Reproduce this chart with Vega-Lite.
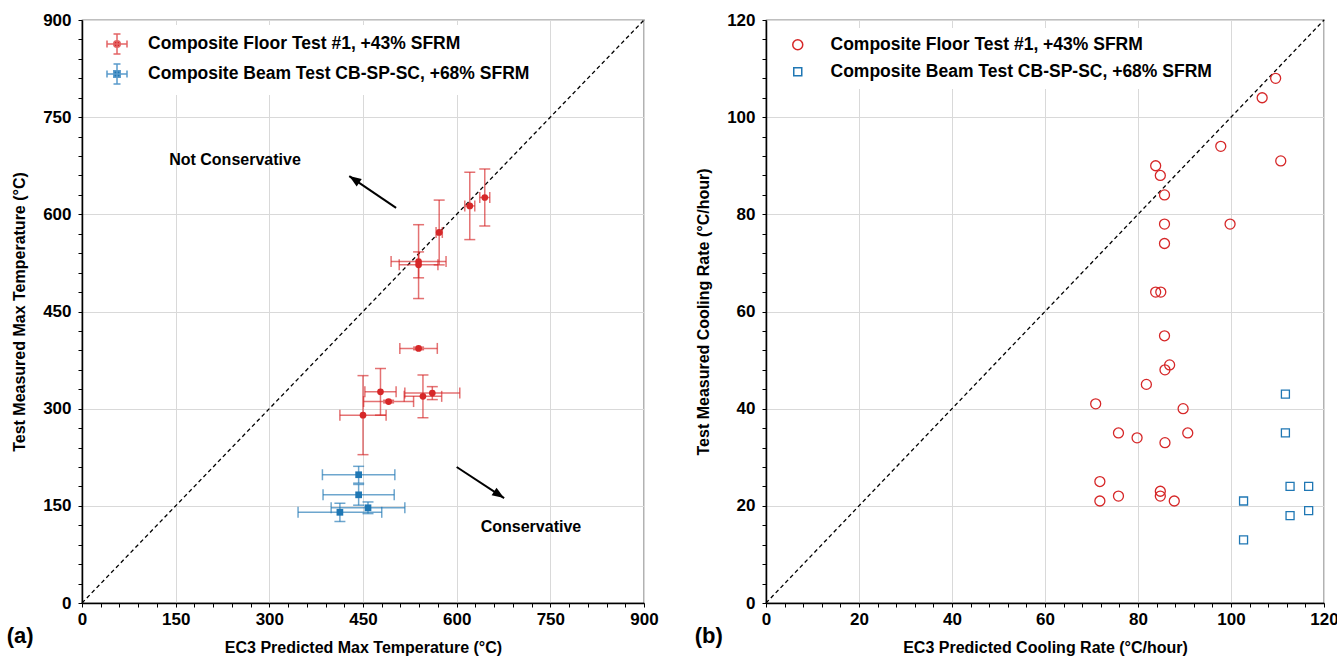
{
  "$schema": "https://vega.github.io/schema/vega-lite/v6.json",
  "padding": {"left": 6, "top": 10, "right": 0, "bottom": 0},
  "background": "white",
  "config": {
    "font": "Liberation Sans",
    "view": {"stroke": "black", "strokeWidth": 1.2},
    "axis": {
      "domainColor": "black", "domainWidth": 1.5,
      "tickColor": "black", "tickSize": 4, "tickWidth": 1,
      "labelFont": "Liberation Sans", "labelFontSize": 17, "labelFontWeight": "bold", "labelColor": "black",
      "titleFont": "Liberation Sans", "titleFontSize": 16, "titleFontWeight": "bold", "titleColor": "black",
      "gridColor": "#d9d9d9", "gridWidth": 1, "labelOverlap": false, "labelFlush": false
    },
    "legend": {"labelFont": "Liberation Sans", "labelFontSize": 17.5, "labelFontWeight": "bold", "labelColor": "black", "labelLimit": 600}
  },
  "datasets": {
    "left": [
      {"series": "Composite Floor Test #1, +43% SFRM", "x": 645, "y": 626, "xerr": 8, "yerr": 44},
      {"series": "Composite Floor Test #1, +43% SFRM", "x": 621, "y": 613, "xerr": 8, "yerr": 52},
      {"series": "Composite Floor Test #1, +43% SFRM", "x": 572, "y": 572, "xerr": 5, "yerr": 50},
      {"series": "Composite Floor Test #1, +43% SFRM", "x": 539, "y": 527, "xerr": 44, "yerr": 57},
      {"series": "Composite Floor Test #1, +43% SFRM", "x": 539, "y": 522, "xerr": 31, "yerr": 20},
      {"series": "Composite Floor Test #1, +43% SFRM", "x": 539, "y": 393, "xerr": 30, "yerr": 2},
      {"series": "Composite Floor Test #1, +43% SFRM", "x": 478, "y": 326, "xerr": 25, "yerr": 36},
      {"series": "Composite Floor Test #1, +43% SFRM", "x": 491, "y": 311, "xerr": 40, "yerr": 2},
      {"series": "Composite Floor Test #1, +43% SFRM", "x": 450, "y": 290, "xerr": 37, "yerr": 61},
      {"series": "Composite Floor Test #1, +43% SFRM", "x": 546, "y": 319, "xerr": 30, "yerr": 33},
      {"series": "Composite Floor Test #1, +43% SFRM", "x": 561, "y": 324, "xerr": 44, "yerr": 10},
      {"series": "Composite Beam Test CB-SP-SC, +68% SFRM", "x": 443, "y": 198, "xerr": 58, "yerr": 13},
      {"series": "Composite Beam Test CB-SP-SC, +68% SFRM", "x": 443, "y": 167, "xerr": 57, "yerr": 16},
      {"series": "Composite Beam Test CB-SP-SC, +68% SFRM", "x": 458, "y": 147, "xerr": 59, "yerr": 9},
      {"series": "Composite Beam Test CB-SP-SC, +68% SFRM", "x": 413, "y": 140, "xerr": 67, "yerr": 14}
    ],
    "right": [
      {"series": "Composite Floor Test #1, +43% SFRM", "x": 109.6, "y": 108},
      {"series": "Composite Floor Test #1, +43% SFRM", "x": 106.7, "y": 104},
      {"series": "Composite Floor Test #1, +43% SFRM", "x": 97.8, "y": 94},
      {"series": "Composite Floor Test #1, +43% SFRM", "x": 110.7, "y": 91},
      {"series": "Composite Floor Test #1, +43% SFRM", "x": 83.8, "y": 90},
      {"series": "Composite Floor Test #1, +43% SFRM", "x": 84.8, "y": 88},
      {"series": "Composite Floor Test #1, +43% SFRM", "x": 85.7, "y": 84},
      {"series": "Composite Floor Test #1, +43% SFRM", "x": 99.8, "y": 78},
      {"series": "Composite Floor Test #1, +43% SFRM", "x": 85.7, "y": 78},
      {"series": "Composite Floor Test #1, +43% SFRM", "x": 85.7, "y": 74},
      {"series": "Composite Floor Test #1, +43% SFRM", "x": 83.8, "y": 64},
      {"series": "Composite Floor Test #1, +43% SFRM", "x": 84.9, "y": 64},
      {"series": "Composite Floor Test #1, +43% SFRM", "x": 85.7, "y": 55},
      {"series": "Composite Floor Test #1, +43% SFRM", "x": 86.8, "y": 49},
      {"series": "Composite Floor Test #1, +43% SFRM", "x": 85.8, "y": 48},
      {"series": "Composite Floor Test #1, +43% SFRM", "x": 81.8, "y": 45},
      {"series": "Composite Floor Test #1, +43% SFRM", "x": 70.9, "y": 41},
      {"series": "Composite Floor Test #1, +43% SFRM", "x": 89.7, "y": 40},
      {"series": "Composite Floor Test #1, +43% SFRM", "x": 75.8, "y": 35},
      {"series": "Composite Floor Test #1, +43% SFRM", "x": 79.8, "y": 34},
      {"series": "Composite Floor Test #1, +43% SFRM", "x": 90.7, "y": 35},
      {"series": "Composite Floor Test #1, +43% SFRM", "x": 85.8, "y": 33},
      {"series": "Composite Floor Test #1, +43% SFRM", "x": 71.8, "y": 25},
      {"series": "Composite Floor Test #1, +43% SFRM", "x": 75.8, "y": 22},
      {"series": "Composite Floor Test #1, +43% SFRM", "x": 84.8, "y": 23},
      {"series": "Composite Floor Test #1, +43% SFRM", "x": 84.8, "y": 22},
      {"series": "Composite Floor Test #1, +43% SFRM", "x": 71.8, "y": 21},
      {"series": "Composite Floor Test #1, +43% SFRM", "x": 87.8, "y": 21},
      {"series": "Composite Beam Test CB-SP-SC, +68% SFRM", "x": 111.7, "y": 43},
      {"series": "Composite Beam Test CB-SP-SC, +68% SFRM", "x": 111.7, "y": 35},
      {"series": "Composite Beam Test CB-SP-SC, +68% SFRM", "x": 112.7, "y": 24},
      {"series": "Composite Beam Test CB-SP-SC, +68% SFRM", "x": 116.7, "y": 24},
      {"series": "Composite Beam Test CB-SP-SC, +68% SFRM", "x": 102.7, "y": 21},
      {"series": "Composite Beam Test CB-SP-SC, +68% SFRM", "x": 112.7, "y": 18},
      {"series": "Composite Beam Test CB-SP-SC, +68% SFRM", "x": 116.7, "y": 19},
      {"series": "Composite Beam Test CB-SP-SC, +68% SFRM", "x": 102.7, "y": 13}
    ]
  },
  "spacing": 35,
  "resolve": {
    "scale": {"color": "independent", "shape": "independent", "fill": "independent", "stroke": "independent", "size": "independent"},
    "legend": {"color": "independent", "shape": "independent", "fill": "independent", "stroke": "independent", "size": "independent"}
  },
  "hconcat": [
    {
      "width": 562,
      "height": 583,
      "title": {"text": "(a)", "orient": "bottom", "anchor": "start", "frame": "bounds", "fontSize": 22, "fontWeight": "bold", "font": "Liberation Sans", "color": "black", "offset": -29, "dx": -5},
      "encoding": {
        "x": {"field": "x", "type": "quantitative",
          "scale": {"domain": [0, 900], "nice": false, "zero": false},
          "axis": {"title": "EC3 Predicted Max Temperature (°C)",
            "values": [0,30,60,90,120,150,180,210,240,270,300,330,360,390,420,450,480,510,540,570,600,630,660,690,720,750,780,810,840,870,900],
            "labelExpr": "datum.value % 150 === 0 ? datum.label : ''",
            "gridOpacity": {"condition": {"test": "datum.value % 150 === 0", "value": 1}, "value": 0},
            "labelPadding": 4, "titlePadding": 12}},
        "y": {"field": "y", "type": "quantitative",
          "scale": {"domain": [0, 900], "nice": false, "zero": false},
          "axis": {"title": "Test Measured Max Temperature (°C)",
            "values": [0,30,60,90,120,150,180,210,240,270,300,330,360,390,420,450,480,510,540,570,600,630,660,690,720,750,780,810,840,870,900],
            "labelExpr": "datum.value % 150 === 0 ? datum.label : ''",
            "gridOpacity": {"condition": {"test": "datum.value % 150 === 0", "value": 1}, "value": 0},
            "labelPadding": 7, "titlePadding": 15}}
      },
      "layer": [
        {
          "data": {"values": [{"x": 0, "y": 0}, {"x": 900, "y": 900}]},
          "mark": {"type": "line", "color": "black", "strokeDash": [4, 3], "strokeWidth": 1.3}
        },
        {
          "data": {"name": "left"},
          "transform": [{"filter": {"field": "series", "equal": "Composite Floor Test #1, +43% SFRM"}}],
          "mark": {"type": "errorbar", "ticks": true, "size": 11, "thickness": 1.5, "opacity": 0.65, "color": "#d62728"},
          "encoding": {"xError": {"field": "xerr"}}
        },
        {
          "data": {"name": "left"},
          "transform": [{"filter": {"field": "series", "equal": "Composite Floor Test #1, +43% SFRM"}}],
          "mark": {"type": "errorbar", "ticks": true, "size": 11, "thickness": 1.5, "opacity": 0.65, "color": "#d62728"},
          "encoding": {"yError": {"field": "yerr"}}
        },
        {
          "data": {"name": "left"},
          "transform": [{"filter": {"field": "series", "equal": "Composite Beam Test CB-SP-SC, +68% SFRM"}}],
          "mark": {"type": "errorbar", "ticks": true, "size": 11, "thickness": 1.5, "opacity": 0.65, "color": "#1f77b4"},
          "encoding": {"xError": {"field": "xerr"}}
        },
        {
          "data": {"name": "left"},
          "transform": [{"filter": {"field": "series", "equal": "Composite Beam Test CB-SP-SC, +68% SFRM"}}],
          "mark": {"type": "errorbar", "ticks": true, "size": 11, "thickness": 1.5, "opacity": 0.65, "color": "#1f77b4"},
          "encoding": {"yError": {"field": "yerr"}}
        },
        {
          "data": {"name": "left"},
          "transform": [{"filter": {"field": "series", "equal": "Composite Floor Test #1, +43% SFRM"}}],
          "mark": {"type": "point", "shape": "circle", "filled": true, "opacity": 1, "size": 45, "color": "#d62728"}
        },
        {
          "data": {"name": "left"},
          "transform": [{"filter": {"field": "series", "equal": "Composite Beam Test CB-SP-SC, +68% SFRM"}}],
          "mark": {"type": "point", "shape": "square", "filled": true, "opacity": 1, "size": 45, "color": "#1f77b4"}
        },
        {
          "data": {"name": "left"},
          "mark": {"type": "point", "filled": true, "opacity": 0, "strokeWidth": 1.5},
          "encoding": {
            "shape": {"field": "series", "type": "nominal",
              "scale": {"domain": ["Composite Floor Test #1, +43% SFRM", "Composite Beam Test CB-SP-SC, +68% SFRM"],
                "range": ["M-1,0H1M-1,-0.35V0.35M1,-0.35V0.35M0,-1V1M-0.35,-1H0.35M-0.35,1H0.35M0.33,0A0.33,0.33,0,1,1,-0.33,0A0.33,0.33,0,1,1,0.33,0Z",
                          "M-1,0H1M-1,-0.35V0.35M1,-0.35V0.35M0,-1V1M-0.35,-1H0.35M-0.35,1H0.35M-0.32,-0.32H0.32V0.32H-0.32Z"]},
              "legend": {"orient": "none", "legendX": 16, "legendY": 5, "title": null, "symbolSize": 400, "symbolOpacity": 1, "symbolStrokeWidth": 1.5, "labelOffset": 20, "rowPadding": 4, "padding": 8, "fillColor": "white"}},
            "fill": {"field": "series", "type": "nominal",
              "scale": {"domain": ["Composite Floor Test #1, +43% SFRM", "Composite Beam Test CB-SP-SC, +68% SFRM"], "range": ["#d62728", "#1f77b4"]},
              "legend": {"orient": "none", "legendX": 16, "legendY": 5, "title": null, "symbolSize": 400, "symbolOpacity": 1, "symbolStrokeWidth": 1.5, "labelOffset": 20, "rowPadding": 4, "padding": 8, "fillColor": "white"}},
            "stroke": {"field": "series", "type": "nominal",
              "scale": {"domain": ["Composite Floor Test #1, +43% SFRM", "Composite Beam Test CB-SP-SC, +68% SFRM"], "range": ["#e36465", "#5a9bcb"]},
              "legend": {"orient": "none", "legendX": 16, "legendY": 5, "title": null, "symbolSize": 400, "symbolOpacity": 1, "symbolStrokeWidth": 1.5, "labelOffset": 20, "rowPadding": 4, "padding": 8, "fillColor": "white"}}
          }
        },
        {
          "data": {"values": [{"x": 245, "y": 684, "label": "Not Conservative"}, {"x": 719, "y": 117, "label": "Conservative"}]},
          "mark": {"type": "text", "fontSize": 16, "fontWeight": "bold", "font": "Liberation Sans", "color": "black"},
          "encoding": {"text": {"field": "label"}}
        },
        {
          "data": {"values": [{"x": 503, "y": 610, "xend": 428, "yend": 659}, {"x": 600, "y": 210, "xend": 676, "yend": 162}]},
          "mark": {"type": "rule", "strokeWidth": 2, "color": "black"},
          "encoding": {"x2": {"field": "xend"}, "y2": {"field": "yend"}}
        },
        {
          "data": {"values": [{"x": 428, "y": 659}]},
          "mark": {"type": "point", "shape": "M0,0L0.6,1.6L-0.6,1.6Z", "angle": 304, "filled": true, "color": "black", "opacity": 1, "size": 225}
        },
        {
          "data": {"values": [{"x": 676, "y": 162}]},
          "mark": {"type": "point", "shape": "M0,0L0.6,1.6L-0.6,1.6Z", "angle": 123, "filled": true, "color": "black", "opacity": 1, "size": 225}
        }
      ]
    },
    {
      "width": 558,
      "height": 583,
      "title": {"text": "(b)", "orient": "bottom", "anchor": "start", "frame": "bounds", "fontSize": 22, "fontWeight": "bold", "font": "Liberation Sans", "color": "black", "offset": -29, "dx": -1},
      "encoding": {
        "x": {"field": "x", "type": "quantitative",
          "scale": {"domain": [0, 120], "nice": false, "zero": false},
          "axis": {"title": "EC3 Predicted Cooling Rate (°C/hour)",
            "values": [0,4,8,12,16,20,24,28,32,36,40,44,48,52,56,60,64,68,72,76,80,84,88,92,96,100,104,108,112,116,120],
            "labelExpr": "datum.value % 20 === 0 ? datum.label : ''",
            "gridOpacity": {"condition": {"test": "datum.value % 20 === 0", "value": 1}, "value": 0},
            "labelPadding": 4, "titlePadding": 12}},
        "y": {"field": "y", "type": "quantitative",
          "scale": {"domain": [0, 120], "nice": false, "zero": false},
          "axis": {"title": "Test Measured Cooling Rate (°C/hour)",
            "values": [0,4,8,12,16,20,24,28,32,36,40,44,48,52,56,60,64,68,72,76,80,84,88,92,96,100,104,108,112,116,120],
            "labelExpr": "datum.value % 20 === 0 ? datum.label : ''",
            "gridOpacity": {"condition": {"test": "datum.value % 20 === 0", "value": 1}, "value": 0},
            "labelPadding": 7, "titlePadding": 15}}
      },
      "layer": [
        {
          "data": {"values": [{"x": 0, "y": 0}, {"x": 120, "y": 120}]},
          "mark": {"type": "line", "color": "black", "strokeDash": [4, 3], "strokeWidth": 1.3}
        },
        {
          "data": {"name": "right"},
          "mark": {"type": "point", "filled": false, "strokeWidth": 1.3, "opacity": 1},
          "encoding": {
            "color": {"field": "series", "type": "nominal",
              "scale": {"domain": ["Composite Floor Test #1, +43% SFRM", "Composite Beam Test CB-SP-SC, +68% SFRM"], "range": ["#d62728", "#1f77b4"]},
              "legend": {"orient": "none", "legendX": 15, "legendY": 8, "title": null, "labelOffset": 24, "rowPadding": 8, "padding": 8, "fillColor": "white"}},
            "shape": {"field": "series", "type": "nominal",
              "scale": {"domain": ["Composite Floor Test #1, +43% SFRM", "Composite Beam Test CB-SP-SC, +68% SFRM"], "range": ["circle", "square"]},
              "legend": {"orient": "none", "legendX": 15, "legendY": 8, "title": null, "labelOffset": 24, "rowPadding": 8, "padding": 8, "fillColor": "white"}},
            "size": {"field": "series", "type": "nominal",
              "scale": {"domain": ["Composite Floor Test #1, +43% SFRM", "Composite Beam Test CB-SP-SC, +68% SFRM"], "range": [100, 64]},
              "legend": {"orient": "none", "legendX": 15, "legendY": 8, "title": null, "labelOffset": 24, "rowPadding": 8, "padding": 8, "fillColor": "white"}}
          }
        }
      ]
    }
  ]
}
